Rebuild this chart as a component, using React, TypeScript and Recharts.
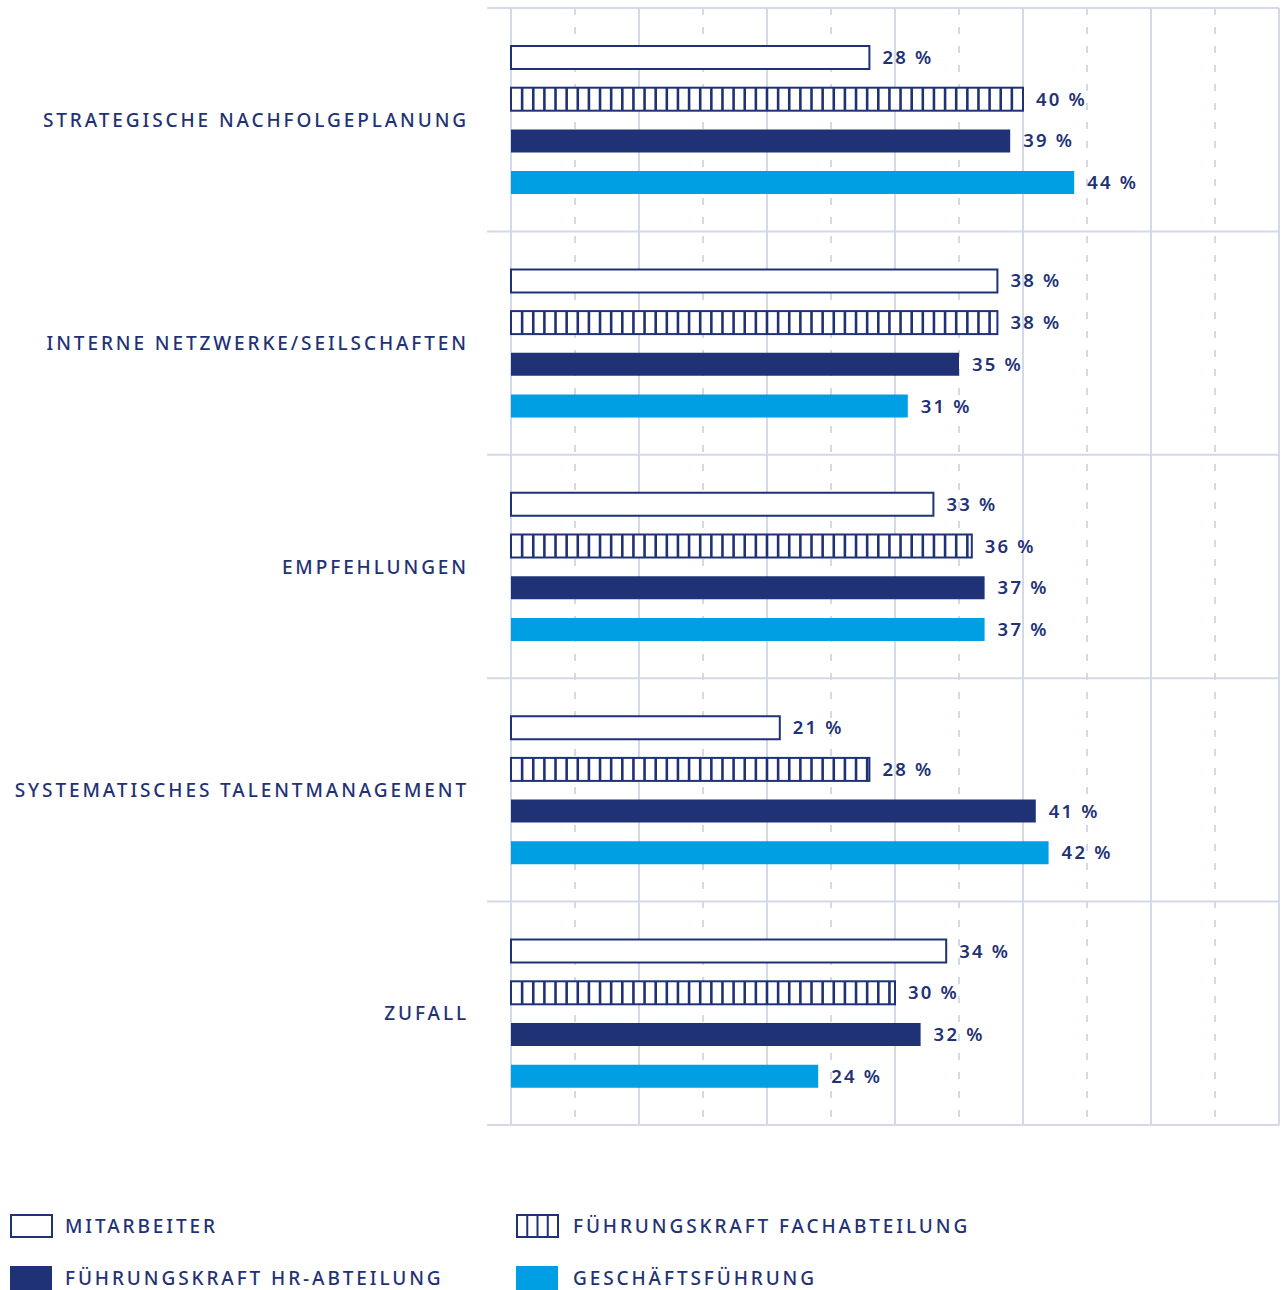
import React from "react";
import { BarChart, Bar, XAxis, YAxis, CartesianGrid, LabelList } from "recharts";

const NAVY = "#1f3275";
const CYAN = "#009fe3";
const GRID = "#d5d8e7";
const FONT = "'Noto Sans', sans-serif";

const categories = [
  "STRATEGISCHE NACHFOLGEPLANUNG",
  "INTERNE NETZWERKE/SEILSCHAFTEN",
  "EMPFEHLUNGEN",
  "SYSTEMATISCHES TALENTMANAGEMENT",
  "ZUFALL",
];
const mitarbeiter = [28, 38, 33, 21, 34];
const fachabteilung = [40, 38, 36, 28, 30];
const hrAbteilung = [39, 35, 37, 41, 32];
const geschaeftsfuehrung = [44, 31, 37, 42, 24];

const solidTicks = [0, 10, 20, 30, 40, 50, 60];
const dashedTicks = [5, 15, 25, 35, 45, 55];

const data = categories.map((name, i) => ({
  name,
  ma: mitarbeiter[i],
  fa: fachabteilung[i],
  hr: hrAbteilung[i],
  gf: geschaeftsfuehrung[i],
}));

const W = 1282;
const H = 1140;
const TOP = 8;
const BOTTOM = 15;
const RIGHT = 3;
const AXIS_W = 487;
const PLOT_H = H - TOP - BOTTOM;
const PLOT_W = W - AXIS_W - RIGHT;
// axis starts a bit left of zero so the band separators overhang the zero line
const DOMAIN = [-1.875, 60];
const STRIPE = 11.13;

const bandLines = [0, 1, 2, 3, 4, 5].map((i) => TOP + (i * PLOT_H) / 5);
// grid x positions for the given axis values (same linear mapping as the axis)
const gridX = (values: number[]) =>
  values.map((v) => AXIS_W + ((v - DOMAIN[0]) / (DOMAIN[1] - DOMAIN[0])) * PLOT_W);

const fmt = (v: number) => `${v} %`;

// hatched bar: outlined box with vertical dividers
function StripedBar(props: any) {
  const { x, y, width, height } = props;
  const n = Math.floor(width / STRIPE);
  const lines = [];
  for (let i = 1; i <= n; i++) {
    const lx = x + i * STRIPE;
    if (lx < x + width - 1) lines.push(<line key={i} x1={lx} x2={lx} y1={y} y2={y + height} stroke={NAVY} strokeWidth={2.6} />);
  }
  return (
    <g>
      <rect x={x} y={y} width={width} height={height} fill="#fff" />
      {lines}
      <rect x={x} y={y} width={width} height={height} fill="none" stroke={NAVY} strokeWidth={2} />
    </g>
  );
}

function CatTick(props: any) {
  const { x, y, payload } = props;
  return (
    <text x={x} y={y} textAnchor="end" dominantBaseline="central" fill={NAVY}
      fontSize={19} fontWeight={500} letterSpacing={2.9} fontFamily={FONT}>
      {payload.value}
    </text>
  );
}

const labelStyle = { fill: NAVY, fontSize: 18.5, fontWeight: 600, letterSpacing: 2.2, fontFamily: FONT };

function Swatch({ kind }: { kind: string }) {
  return (
    <svg width={44} height={25} style={{ display: "block" }}>
      {kind === "ma" && <rect x={1} y={1} width={41} height={22} fill="#fff" stroke={NAVY} strokeWidth={2} />}
      {kind === "fa" && (
        <g>
          <rect x={1} y={1} width={41} height={22} fill="#fff" stroke={NAVY} strokeWidth={2} />
          {[11.25, 21.5, 31.75].map((sx) => (
            <line key={sx} x1={sx} x2={sx} y1={1} y2={23} stroke={NAVY} strokeWidth={2} />
          ))}
        </g>
      )}
      {kind === "hr" && <rect x={0} y={0} width={42} height={24} fill={NAVY} />}
      {kind === "gf" && <rect x={0} y={0} width={42} height={24} fill={CYAN} />}
    </svg>
  );
}

const legendItems = [
  { kind: "ma", label: "MITARBEITER", left: 10, top: 1214, gap: 11 },
  { kind: "fa", label: "FÜHRUNGSKRAFT FACHABTEILUNG", left: 516, top: 1214, gap: 13 },
  { kind: "hr", label: "FÜHRUNGSKRAFT HR-ABTEILUNG", left: 10, top: 1266, gap: 11 },
  { kind: "gf", label: "GESCHÄFTSFÜHRUNG", left: 516, top: 1266, gap: 13 },
];

export default function App() {
  return (
    <div style={{ position: "absolute", left: 0, top: 0, width: W, height: 1290, background: "#fff", fontFamily: FONT }}>
      <BarChart width={W} height={H} data={data} layout="vertical"
        margin={{ top: TOP, right: RIGHT, bottom: BOTTOM, left: 0 }} barSize={23} barGap={18.7}>
        <XAxis type="number" hide domain={DOMAIN} ticks={solidTicks} interval={0} allowDataOverflow />
        <YAxis type="category" dataKey="name" width={AXIS_W} axisLine={false} tickLine={false}
          tickSize={0} tickMargin={18} tick={<CatTick />} interval={0} />
        <CartesianGrid horizontalPoints={bandLines} verticalPoints={gridX(solidTicks)}
          stroke={GRID} strokeWidth={2} />
        <CartesianGrid horizontal={false} verticalPoints={gridX(dashedTicks)}
          stroke={GRID} strokeWidth={2} strokeDasharray="7 12" />
        <Bar dataKey="ma" fill="#fff" stroke={NAVY} strokeWidth={2} isAnimationActive={false}>
          <LabelList dataKey="ma" position="right" offset={13} formatter={fmt} style={labelStyle} />
        </Bar>
        <Bar dataKey="fa" fill="#fff" shape={<StripedBar />} isAnimationActive={false}>
          <LabelList dataKey="fa" position="right" offset={13} formatter={fmt} style={labelStyle} />
        </Bar>
        <Bar dataKey="hr" fill={NAVY} isAnimationActive={false}>
          <LabelList dataKey="hr" position="right" offset={13} formatter={fmt} style={labelStyle} />
        </Bar>
        <Bar dataKey="gf" fill={CYAN} isAnimationActive={false}>
          <LabelList dataKey="gf" position="right" offset={13} formatter={fmt} style={labelStyle} />
        </Bar>
      </BarChart>
      {legendItems.map((it) => (
        <div key={it.kind} style={{ position: "absolute", left: it.left, top: it.top, display: "flex", alignItems: "center" }}>
          <Swatch kind={it.kind} />
          <span style={{ marginLeft: it.gap, color: NAVY, fontSize: 19, fontWeight: 500, letterSpacing: 2.9, lineHeight: "25px" }}>
            {it.label}
          </span>
        </div>
      ))}
    </div>
  );
}
